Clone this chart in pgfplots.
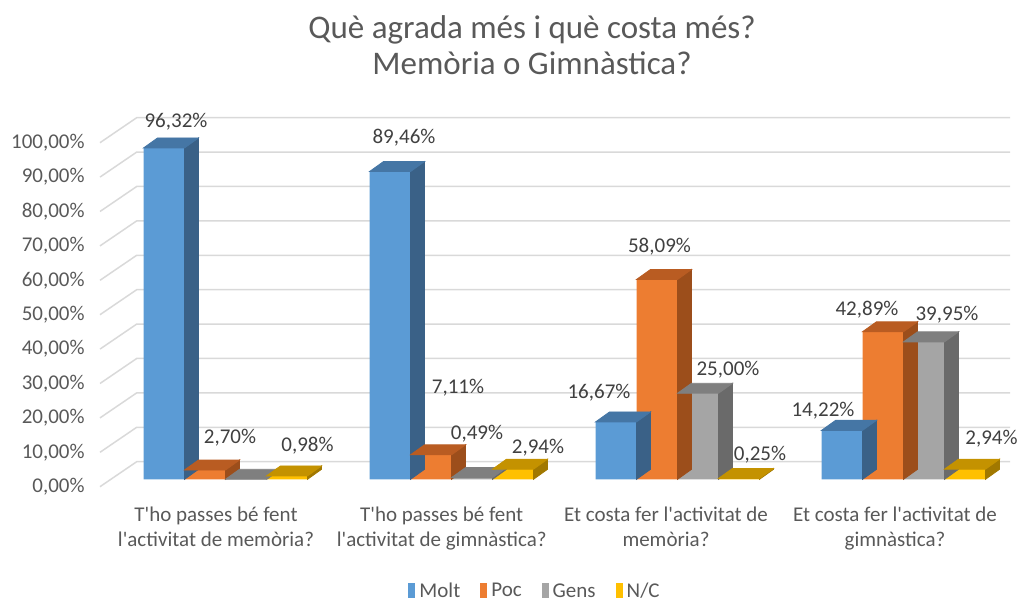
\documentclass[border=0pt]{standalone}
\usepackage{fontspec}
\setmainfont{Carlito}[Ligatures=TeXOff]
\usepackage{pgfplots}
\usepackage{pgfplotstable}
\pgfplotsset{compat=1.18}

\definecolor{moltF}{HTML}{5B9BD5}\definecolor{moltT}{HTML}{4576A5}\definecolor{moltS}{HTML}{3A6187}
\definecolor{pocF}{HTML}{ED7D31}\definecolor{pocT}{HTML}{B95C22}\definecolor{pocS}{HTML}{9C4E1B}
\definecolor{gensF}{HTML}{A5A5A5}\definecolor{gensT}{HTML}{7F7F7F}\definecolor{gensS}{HTML}{6A6A6A}
\definecolor{ncF}{HTML}{FFC000}\definecolor{ncT}{HTML}{C49200}\definecolor{ncS}{HTML}{A17800}
\definecolor{txt}{HTML}{595959}\definecolor{lbl}{HTML}{404040}\definecolor{gridc}{HTML}{D9D9D9}

\pgfdeclareplotmark{empty}{}

% x = bar centre (px layout), y = value (%), lx/lu = label offset (px right / up)
\pgfplotstableread{
x y lx lu
164 96.32 12 26
390 89.46 14 34
616 16.67 -17 29
842 14.22 -19 20
}\molt
\pgfplotstableread{
x y lx lu
205 2.70 25 32
431 7.11 27 67
657 58.09 2.5 32.5
883 42.89 -16 22
}\poc
\pgfplotstableread{
x y lx lu
472 0.49 5 44
698 25.00 30 24
924 39.95 23 27
}\gens
\pgfplotstableread{
x y lx lu
246 0 0 0
}\genszero
\pgfplotstableread{
x y lx lu
287 0.98 20.5 30
513 2.94 25 22
739 0.25 21 24
965 2.94 26.5 31
}\nc

\pgfplotsset{
  front/.style={ybar, bar width=41, bar shift=0pt, fill=#1, draw=none, forget plot},
  labelled/.style={
    nodes near coords={\pgfmathprintnumber[fixed,fixed zerofill,precision=2,use comma,assume math mode=true]{\pgfplotspointmeta}\%},
    visualization depends on={\thisrow{lx} \as \lx},
    visualization depends on={\thisrow{lu} \as \lu},
    every node near coord/.append style={anchor=center, xshift=\lx*0.5pt, yshift=\lu*0.5pt,
      font=\fontsize{10.5}{12}\selectfont, text=lbl, inner sep=0pt}},
  faces/.style 2 args={only marks, scatter, mark=empty, forget plot,
    visualization depends on={\thisrow{y} \as \val},
    scatter/@pre marker code/.code={%
      \pgfmathsetmacro\hb{5-\val*1.72}%
      \pgfmathsetmacro\hh{-\val*1.72}%
      \fill[#1] (10.25pt,0pt) -- (17.25pt,5pt) -- (17.25pt,\hb pt) -- (10.25pt,\hh pt) -- cycle;
      \fill[#2] (-10.25pt,0pt) -- (10.25pt,0pt) -- (17.25pt,5pt) -- (-3.25pt,5pt) -- cycle;
    },
    scatter/@post marker code/.code={}},
}

\begin{document}
\begin{tikzpicture}
\useasboundingbox (0,0) rectangle (514.5pt,301pt);
\begin{axis}[
  at={(0pt,0pt)}, anchor=south west,
  x=0.5pt, y=1.72pt,
  xmin=0, xmax=1029, ymin=-35.67, ymax=139.33,
  clip=false,
  axis line style={draw=none},
  major tick length=0pt,
  ytick={-2.15,7.85,17.85,27.85,37.85,47.85,57.85,67.85,77.85,87.85,97.85},
  yticklabels={{0,00\%},{10,00\%},{20,00\%},{30,00\%},{40,00\%},{50,00\%},{60,00\%},{70,00\%},{80,00\%},{90,00\%},{100,00\%}},
  yticklabel style={anchor=east, inner sep=0pt, xshift=42.5pt, font=\fontsize{10.5}{12}\selectfont, text=txt},
  xtick={216,441.7,666,895},
  xticklabels={{T'ho passes bé fent\\l'activitat de memòria?},{T'ho passes bé fent\\l'activitat de gimnàstica?},{Et costa fer l'activitat de\\memòria?},{Et costa fer l'activitat de\\gimnàstica?}},
  xticklabel style={align=center, anchor=north, inner sep=0pt, yshift=47.5pt, font=\fontsize{10.5}{12.5}\selectfont, text=txt},
  legend image code/.code={\path (0pt,-3pt) rectangle (3.5pt,4pt);\fill (0pt,0.75pt) rectangle (3.5pt,4.25pt);},
  legend style={at={(0.5209,0.0171)}, anchor=center, draw=none, fill=none, legend columns=-1,
    font=\fontsize{10.5}{12}\selectfont, text=txt,
    /tikz/every even column/.append style={column sep=8pt}},
]
% back wall / side wall gridlines
\pgfplotsinvokeforeach{0,10,...,100}{
  \draw[gridc, line width=0.75pt] (axis cs:100,#1-2.15) -- (axis cs:136.7,#1+5.12) -- (axis cs:1010,#1+5.12);
}
\node[align=center, font=\fontsize{16.5}{18}\selectfont, text=txt] at (axis cs:532,126.2)
  {Què agrada més i què costa més?\\Memòria o Gimnàstica?};

\addplot[front=moltF, labelled] table[x=x,y=y] {\molt};
\addplot[faces={moltS}{moltT}] table[x=x,y=y] {\molt};

\addplot[front=pocF, labelled] table[x=x,y=y] {\poc};
\addplot[faces={pocS}{pocT}] table[x=x,y=y] {\poc};

\addplot[faces={gensS}{gensT}] table[x=x,y=y] {\genszero};
\addplot[front=gensF, labelled] table[x=x,y=y] {\gens};
\addplot[faces={gensS}{gensT}] table[x=x,y=y] {\gens};

\addplot[front=ncF, labelled] table[x=x,y=y] {\nc};
\addplot[faces={ncS}{ncT}] table[x=x,y=y] {\nc};

\addlegendimage{fill=moltF, draw=none}\addlegendentry{Molt}
\addlegendimage{fill=pocF, draw=none}\addlegendentry{Poc}
\addlegendimage{fill=gensF, draw=none}\addlegendentry{Gens}
\addlegendimage{fill=ncF, draw=none}\addlegendentry{N/C}
\end{axis}
\end{tikzpicture}
\end{document}
